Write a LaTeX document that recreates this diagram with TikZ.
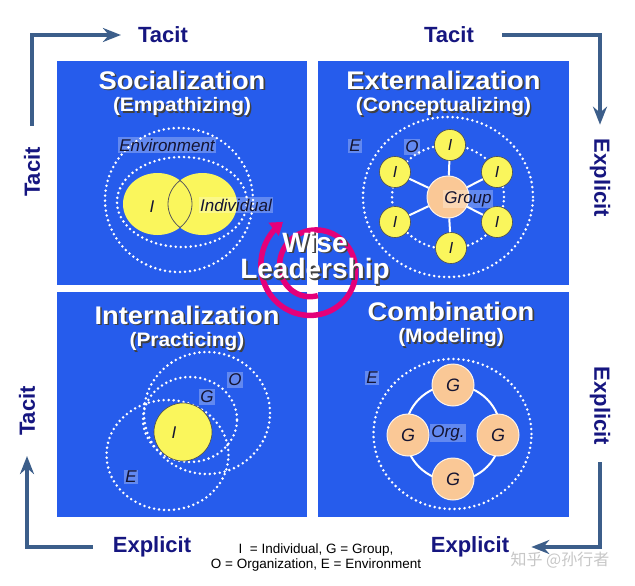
\documentclass[tikz,border=0pt]{standalone}
\usepackage{fontspec}
\setmainfont{Liberation Sans}
\newfontfamily\widefont[FakeStretch=1.07]{Liberation Sans}
\newfontfamily\cjkfont{Noto Sans CJK SC}
\usetikzlibrary{arrows.meta, positioning, calc}
\definecolor{quadblue}{RGB}{38, 92, 236}
\definecolor{navy}{RGB}{22, 22, 128}
\definecolor{steel}{RGB}{60, 94, 138}
\definecolor{lemon}{RGB}{250, 246, 92}
\definecolor{peach}{RGB}{250, 200, 150}
\definecolor{magentapink}{RGB}{228, 0, 122}
\definecolor{labeltext}{RGB}{20, 20, 50}
\newcommand{\shadowed}[1]{\makebox[0pt][l]{\kern1.6pt\raisebox{-1.6pt}{\color{black!75}#1}}#1}

\begin{document}
\begin{tikzpicture}[
        x=1pt, y=-1pt,
        % Styles
        quad/.style={rectangle, fill=quadblue, inner sep=0pt},
        title/.style={text=white, font=\widefont\bfseries\fontsize{25.5}{28}\selectfont, inner sep=0pt},
        subtitle/.style={text=white, font=\widefont\bfseries\fontsize{19.5}{22}\selectfont, inner sep=0pt},
        axis/.style={text=navy, font=\bfseries\fontsize{22}{24}\selectfont, inner sep=0pt},
        flow/.style={-{Stealth[length=18pt, width=14pt, inset=6pt]}, line width=4.5pt, draw=steel},
        ring/.style={draw=white, line width=2.8pt, line cap=round, dash pattern=on 0pt off 5pt},
        tag/.style={fill=white, fill opacity=0.28, text opacity=1, text=labeltext,
            font=\itshape\fontsize{17}{19}\selectfont, inner sep=1.5pt},
        bare/.style={text=labeltext, font=\itshape\fontsize{17}{19}\selectfont, inner sep=0pt},
        member/.style={circle, draw=black!70, line width=0.6pt, fill=lemon, minimum size=31pt,
            inner sep=0pt, text=labeltext, font=\itshape\fontsize{16}{18}\selectfont},
        team/.style={circle, draw=white!80!peach, line width=1pt, fill=peach, minimum size=42pt,
            inner sep=0pt, text=labeltext, font=\itshape\fontsize{18}{20}\selectfont},
        spoke/.style={draw=white, line width=2pt},
        lens/.style={draw=black!65, line width=0.8pt},
        spiral/.style={draw=magentapink, line width=5.5pt, -{Triangle[length=12pt, width=16pt]}}
    ]
    \useasboundingbox (0,0) rectangle (635,586);
    \fill[white] (0,0) rectangle (635,586);

    % ==============================
    % 1. QUADRANTS
    % ==============================
    \node[quad, minimum width=250pt, minimum height=224pt] (soc_box) at (182,173) {};
    \node[quad, minimum width=251pt, minimum height=224pt] (ext_box) at (443.5,173) {};
    \node[quad, minimum width=250pt, minimum height=225pt] (int_box) at (182,404.5) {};
    \node[quad, minimum width=251pt, minimum height=225pt] (com_box) at (443.5,404.5) {};

    \node[title] (soc_title) at (182,81) {\shadowed{Socialization}};
    \node[subtitle, below=6pt of soc_title] (soc_sub) {\shadowed{(Empathizing)}};
    \node[title] (ext_title) at (443.5,81) {\shadowed{Externalization}};
    \node[subtitle, below=6pt of ext_title] (ext_sub) {\shadowed{(Conceptualizing)}};
    \node[title] (int_title) at (187,316) {\shadowed{Internalization}};
    \node[subtitle, below=6pt of int_title] (int_sub) {\shadowed{(Practicing)}};
    \node[title] (com_title) at (451,312) {\shadowed{Combination}};
    \node[subtitle, below=6pt of com_title] (com_sub) {\shadowed{(Modeling)}};

    % ==============================
    % 2. SOCIALIZATION
    % ==============================
    \draw[ring] (179,200) ellipse [x radius=74pt, y radius=72pt];
    \draw[ring] (182,202) ellipse [x radius=65pt, y radius=45pt];
    \fill[lemon] (157.5,204) ellipse [x radius=34.5pt, y radius=31pt];
    \fill[lemon] (202.5,204) ellipse [x radius=34.5pt, y radius=31pt];
    \begin{scope}
        \clip (202.5,204) ellipse [x radius=35pt, y radius=31.5pt];
        \draw[lens] (157.5,204) ellipse [x radius=34.5pt, y radius=31pt];
    \end{scope}
    \begin{scope}
        \clip (157.5,204) ellipse [x radius=35pt, y radius=31.5pt];
        \draw[lens] (202.5,204) ellipse [x radius=34.5pt, y radius=31pt];
    \end{scope}
    \node[bare] (soc_i) at (152,207) {I};
    \node[tag] (soc_individual) at (236,205) {Individual};
    \node[tag] (soc_env) at (167,145) {Environment};

    % ==============================
    % 3. EXTERNALIZATION
    % ==============================
    \draw[ring] (448,197) ellipse [x radius=85pt, y radius=80pt];
    \draw[ring] (448,197) ellipse [x radius=56pt, y radius=52pt];
    \node[team] (ext_group) at (448,197) {};
    \node[member] (ext_i1) at (450,145) {I};
    \node[member] (ext_i2) at (497,172) {I};
    \node[member] (ext_i3) at (497,222) {I};
    \node[member] (ext_i4) at (451,248) {I};
    \node[member] (ext_i5) at (395,222) {I};
    \node[member] (ext_i6) at (395,172) {I};
    \foreach \m in {1,...,6}
        \draw[spoke] (ext_group) -- (ext_i\m);
    \node[tag] (ext_group_label) at (468,199) {Group};
    \node[tag] (ext_e) at (355,146) {E};
    \node[tag] (ext_o) at (412,147) {O};

    % ==============================
    % 4. INTERNALIZATION
    % ==============================
    \draw[ring] (167.5,455) ellipse [x radius=61pt, y radius=55pt];
    \draw[ring] (207,413) ellipse [x radius=63pt, y radius=61pt];
    \draw[ring] (190,419.5) ellipse [x radius=47pt, y radius=42.5pt];
    \node[member, minimum size=58pt] (int_i) at (183,432) {};
    \node[bare] (int_i_label) at (174,433) {I};
    \node[tag] (int_o) at (235,380) {O};
    \node[tag] (int_g) at (207,397) {G};
    \node[tag] (int_e) at (131,477) {E};

    % ==============================
    % 5. COMBINATION
    % ==============================
    \draw[ring] (452.5,434) ellipse [x radius=79pt, y radius=75pt];
    \draw[white, line width=2pt] (453,433) circle [radius=48pt];
    \node[team] (com_g1) at (453,385) {G};
    \node[team] (com_g2) at (498,435) {G};
    \node[team] (com_g3) at (453,479) {G};
    \node[team] (com_g4) at (408,435) {G};
    \node[tag] (com_org) at (448,433) {Org.};
    \node[tag] (com_e) at (372,378) {E};

    % ==============================
    % 6. WISE LEADERSHIP
    % ==============================
    \draw[spiral] plot[domain=640:123, samples=140, variable=\t]
        ({313+(28+(640-\t)/517*27)*cos(\t)}, {268-(28+(640-\t)/517*27)*sin(\t)});
    \node[text=white, font=\bfseries\fontsize{28}{26.5}\selectfont, align=center, inner sep=0pt]
        (wise) at (315,259) {\shadowed{Wise}\\\shadowed{Leadership}};

    % ==============================
    % 7. AXES
    % ==============================
    \node[axis] (tacit_top) at (163,35) {Tacit};
    \node[axis] (tacit_top2) at (449,35) {Tacit};
    \node[axis, rotate=90] (tacit_left) at (32,172) {Tacit};
    \node[axis, rotate=90] (tacit_left2) at (27,411) {Tacit};
    \node[axis, rotate=-90] (explicit_right) at (600,178) {Explicit};
    \node[axis, rotate=-90] (explicit_right2) at (600,406) {Explicit};
    \node[axis] (explicit_bot) at (152,547) {Explicit};
    \node[axis] (explicit_bot2) at (470,547) {Explicit};

    \draw[flow] ([yshift=21pt]tacit_left.east) |- ([xshift=-17pt]tacit_top.west);
    \draw[flow] ([xshift=28pt]tacit_top2.east) -| ([yshift=14pt]explicit_right.west);
    \draw[flow] ([yshift=-17pt]explicit_right2.east) |- ([xshift=22pt]explicit_bot2.east);
    \draw[flow] ([xshift=-20pt]explicit_bot.west) -| ([yshift=-20pt]tacit_left2.west);

    % ==============================
    % 8. LEGEND
    % ==============================
    \node[align=center, font=\fontsize{13.5}{15}\selectfont, inner sep=0pt] (legend) at (316,558)
        {I\ \ = Individual,\ G = Group,\\O = Organization, E = Environment};
    \node[text=black!22, font=\cjkfont\fontsize{16}{18}\selectfont, inner sep=0pt] (watermark) at (560,560)
        {知乎\ @孙行者};

\end{tikzpicture}
\end{document}
